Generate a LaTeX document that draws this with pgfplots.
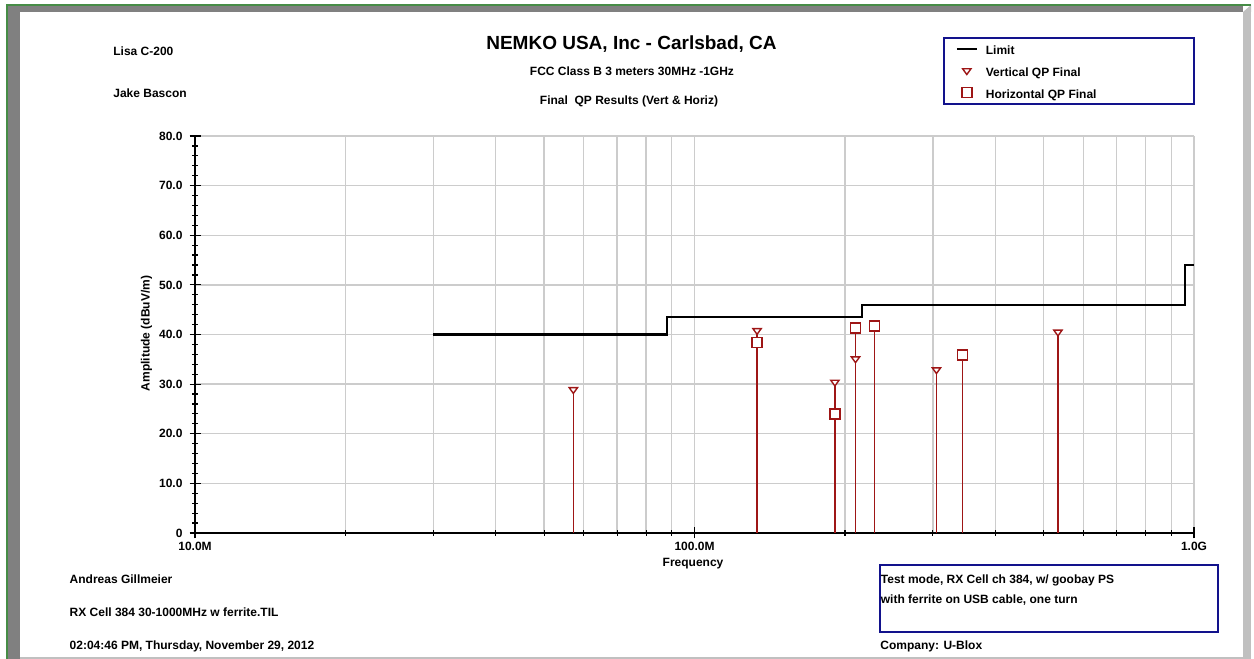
\documentclass[border=0pt]{standalone}
\usepackage{fontspec}
\setmainfont{Liberation Sans}
\usepackage{pgfplots}
\pgfplotsset{compat=1.18}

\definecolor{qpred}{RGB}{158,22,22}
\definecolor{navyframe}{RGB}{18,18,140}
\definecolor{gridgrey}{RGB}{204,204,204}
\definecolor{framedark}{RGB}{128,128,128}
\definecolor{framelight}{RGB}{192,192,192}
\definecolor{framegreen}{RGB}{70,140,70}

\newcommand{\lbl}{\bfseries\fontsize{6}{7}\selectfont}

% legend glyphs
\pgfplotsset{
    limit legend/.style={legend image code/.code={\draw[##1] (0pt,0pt) -- (10pt,0pt);}},
    mark legend/.style={legend image code/.code={\draw[##1, only marks] plot coordinates {(5pt,0pt)};}},
}

\begin{document}
\begin{tikzpicture}
% page furniture, in pixel units of the reference (1 px = 0.5 pt)
\begin{scope}[x=0.5pt,y=0.5pt]
\path[use as bounding box] (0,0) rectangle (1254,659);
\fill[framedark] (7,0) rectangle (20,654);
\fill[framedark] (7,647) rectangle (1243,654);
\fill[framelight] (1243,0) rectangle (1251,647);
\fill[framelight] (1243,647) -- (1251,654) -- (1251,647) -- cycle;
\fill[framelight] (20,0) rectangle (1243,2);
\draw[framegreen, line width=0.6pt] (7,0) -- (7,654) -- (1251,654);

\node[anchor=base west, inner sep=0pt, font=\lbl] at (113,603.7) {Lisa C-200};
\node[anchor=base west, inner sep=0pt, font=\lbl] at (113,561) {Jake Bascon};
\node[anchor=base, inner sep=0pt, font=\bfseries\fontsize{9.5}{11}\selectfont] at (631.5,609.7) {NEMKO USA, Inc - Carlsbad, CA};
\node[anchor=base, inner sep=0pt, font=\lbl] at (632,583.3) {FCC Class B 3 meters 30MHz -1GHz};
\node[anchor=base, inner sep=0pt, font=\lbl] at (629,554.7) {Final\ \ QP Results (Vert \& Horiz)};

\node[anchor=base west, inner sep=0pt, font=\lbl] at (69.3,75.7) {Andreas Gillmeier};
\node[anchor=base west, inner sep=0pt, font=\lbl] at (69.3,42.3) {RX Cell 384 30-1000MHz w ferrite.TIL};
\node[anchor=base west, inner sep=0pt, font=\lbl] at (69.3,9.7) {02:04:46 PM, Thursday, November 29, 2012};
\draw[navyframe, line width=1pt] (880,94) rectangle (1217.5,27.3);
\node[anchor=base west, inner sep=0pt, font=\lbl] at (880.5,75.3) {Test mode, RX Cell ch 384, w/ goobay PS};
\node[anchor=base west, inner sep=0pt, font=\lbl] at (880.5,55) {with ferrite on USB cable, one turn};
\node[anchor=base west, inner sep=0pt, font=\lbl] at (880,9) {Company: U-Blox};
\end{scope}

\begin{axis}[
    at={(97.5pt,63pt)}, anchor=south west,
    scale only axis,
    width=499.5pt, height=198.5pt,
    xmode=log,
    xmin=1e7, xmax=1e9,
    ymin=0, ymax=80,
    axis x line*=bottom, axis y line*=left,
    axis line style={black, line width=0.8pt, -},
    xtick={1e7,1e8,1e9},
    xticklabels={10.0M,100.0M,1.0G},
    ytick={0,10,20,30,40,50,60,70,80},
    yticklabels={0,10.0,20.0,30.0,40.0,50.0,60.0,70.0,80.0},
    minor y tick num=4,
    xmajorgrids, xminorgrids, ymajorgrids,
    grid style={gridgrey, line width=0.7pt},
    minor grid style={gridgrey, line width=0.7pt},
    tick align=center,
    major tick length=5.5pt, minor tick length=3pt,
    tick style={black, line width=0.6pt},
    ticklabel style={font=\lbl},
    xticklabel style={yshift=1.5pt},
    /pgf/number format/assume math mode=true,
    xlabel={Frequency},
    ylabel={Amplitude (dBuV/m)},
    label style={font=\lbl},
    xlabel style={at={(axis description cs:0.4985,-0.0768)}, anchor=center},
    ylabel style={at={(axis description cs:-0.0486,0.5025)}, anchor=center},
    legend style={
        at={(axis description cs:0.7484,1.2501)}, anchor=north west,
        draw=navyframe, line width=1pt, font=\lbl,
        inner xsep=6pt, inner ysep=2.5pt,
        row sep=5pt, column sep=4pt,
        nodes={inner sep=0pt, text height=6pt, text depth=0pt},
    },
    legend cell align=left,
]
\addplot[black, line width=1.1pt, mark=none, limit legend]
    coordinates {
    (30e6,40) (88e6,40) (88e6,43.5) (216e6,43.5)
    (216e6,46) (960e6,46) (960e6,54) (1e9,54)
    };
\addlegendentry{\makebox[98pt][l]{Limit}}

\addplot[qpred, line width=0.7pt, ycomb,
    mark=triangle*, mark size=2.4pt,
    mark options={fill=white, draw=qpred, rotate=180, yscale=0.8, line width=0.7pt},
    mark legend]
    coordinates {
    (57.2e6,28.9) (133.4e6,40.8) (191e6,30.4)
    (210e6,35.1) (305e6,32.9) (534e6,40.5)
    };
\addlegendentry{\makebox[98pt][l]{Vertical QP Final}}

\addplot[qpred, line width=0.7pt, ycomb,
    mark=square*, mark size=2.5pt,
    mark options={fill=white, draw=qpred, line width=0.7pt},
    mark legend]
    coordinates {
    (133.4e6,38.4) (191e6,24.0) (210e6,41.3)
    (229e6,41.7) (344e6,35.9)
    };
\addlegendentry{\makebox[98pt][l]{Horizontal QP Final}}
\end{axis}
\end{tikzpicture}
\end{document}
